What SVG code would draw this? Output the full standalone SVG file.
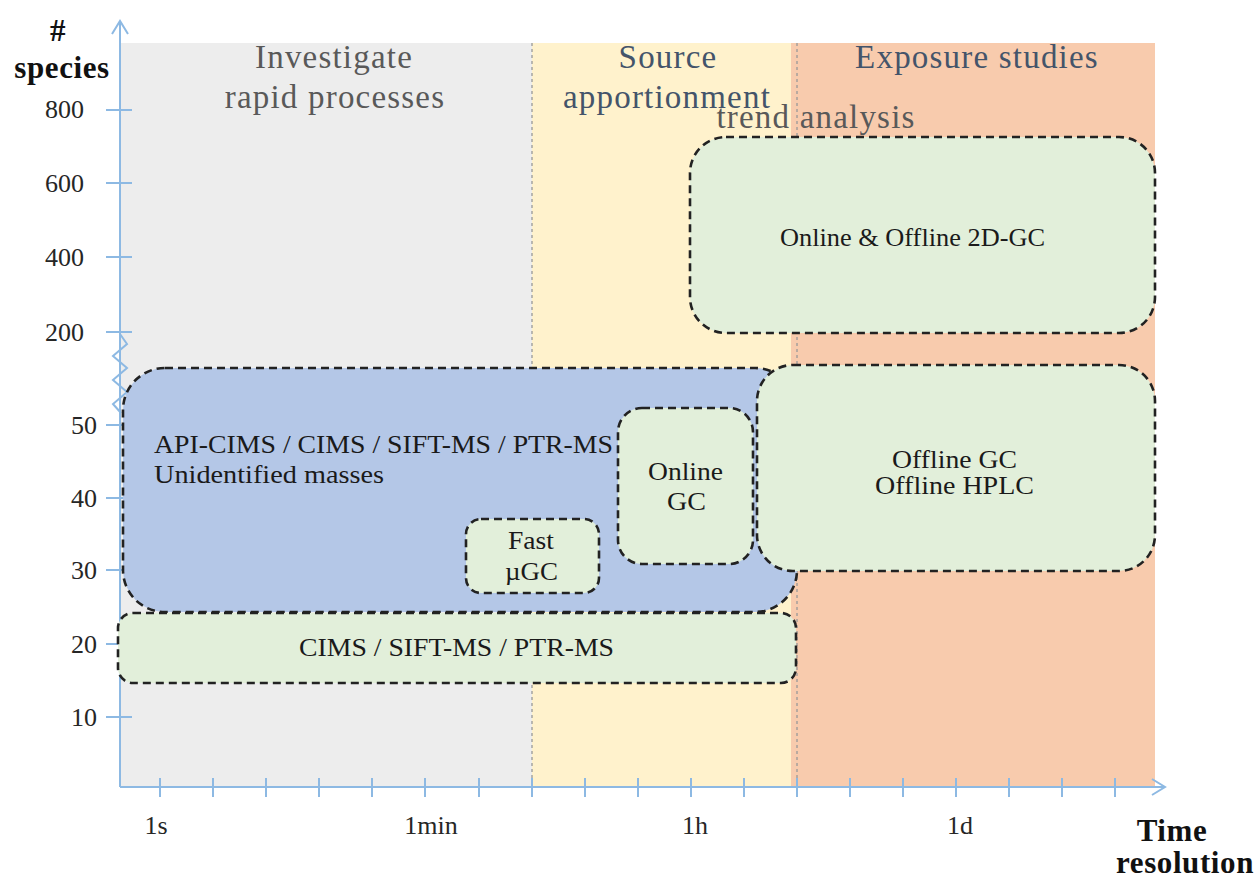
<svg xmlns="http://www.w3.org/2000/svg" width="1257" height="882" viewBox="0 0 1257 882">
<style>
text{font-family:"Liberation Serif","Times New Roman",serif;}
.zt{font-size:33px;letter-spacing:1.2px;text-anchor:middle;}
.gray{fill:#595959;}
.slate{fill:#44546A;}
.lbl{font-size:25px;fill:#1a1a1a;}
.mid{text-anchor:middle;}
.num{font-size:26px;fill:#262626;text-anchor:end;}
.xl{font-size:26px;fill:#262626;text-anchor:middle;}
.ax{font-size:31px;font-weight:bold;fill:#111;letter-spacing:0.6px;}
.box{stroke:#222;stroke-width:2.6;stroke-dasharray:8 5;}
.green{fill:#E2EFDA;}
.blue{fill:#B4C7E7;}
.axis{stroke:#8DB9E3;stroke-width:2;fill:none;}
.div{stroke:#999;stroke-width:1.3;stroke-dasharray:3 3;}
</style>
<rect width="1257" height="882" fill="#fff"/>
<g id="zones">
<rect x="120" y="43" width="412" height="744" fill="#EDEDED"/>
<rect x="532" y="43" width="259" height="744" fill="#FFF2CC"/>
<rect x="791" y="43" width="364" height="744" fill="#F8CBAD"/>
<line class="div" x1="532" y1="43" x2="532" y2="787"/>
<line class="div" x1="797" y1="43" x2="797" y2="787"/>
<text class="zt gray" x="334" y="68">Investigate</text>
<text class="zt gray" x="335" y="108">rapid processes</text>
<text class="zt slate" x="668" y="68">Source</text>
<text class="zt slate" x="667" y="108">apportionment</text>
<text class="zt gray" x="816" y="128">trend analysis</text>
<text class="zt slate" x="977" y="68">Exposure studies</text>
</g>
<g id="axes">
<line class="axis" x1="120" y1="21" x2="120" y2="787"/>
<polyline class="axis" points="112,34 120,21 128,34"/>
<line class="axis" x1="120" y1="787" x2="1164" y2="787"/>
<polyline class="axis" points="1152,779 1165,787 1152,795"/>
<path class="axis" d="M120,334 L127,344 L113,356 L127,368 L113,380 L127,392 L113,404 L121,413"/>
<g stroke="#8DB9E3" stroke-width="2">
<line x1="106" y1="110" x2="132" y2="110"/>
<line x1="106" y1="183" x2="132" y2="183"/>
<line x1="106" y1="257" x2="132" y2="257"/>
<line x1="106" y1="332" x2="132" y2="332"/>
<line x1="106" y1="425" x2="132" y2="425"/>
<line x1="106" y1="498" x2="132" y2="498"/>
<line x1="106" y1="570" x2="132" y2="570"/>
<line x1="106" y1="644" x2="132" y2="644"/>
<line x1="106" y1="717" x2="132" y2="717"/>
<line x1="160" y1="778" x2="160" y2="797"/>
<line x1="213" y1="778" x2="213" y2="797"/>
<line x1="266" y1="778" x2="266" y2="797"/>
<line x1="319" y1="778" x2="319" y2="797"/>
<line x1="372" y1="778" x2="372" y2="797"/>
<line x1="425" y1="778" x2="425" y2="797"/>
<line x1="479" y1="778" x2="479" y2="797"/>
<line x1="532" y1="778" x2="532" y2="797"/>
<line x1="585" y1="778" x2="585" y2="797"/>
<line x1="638" y1="778" x2="638" y2="797"/>
<line x1="691" y1="778" x2="691" y2="797"/>
<line x1="744" y1="778" x2="744" y2="797"/>
<line x1="797" y1="778" x2="797" y2="797"/>
<line x1="850" y1="778" x2="850" y2="797"/>
<line x1="903" y1="778" x2="903" y2="797"/>
<line x1="956" y1="778" x2="956" y2="797"/>
<line x1="1009" y1="778" x2="1009" y2="797"/>
<line x1="1062" y1="778" x2="1062" y2="797"/>
<line x1="1115" y1="778" x2="1115" y2="797"/>
</g>
<text class="num" x="84" y="118">800</text>
<text class="num" x="84" y="192">600</text>
<text class="num" x="84" y="266">400</text>
<text class="num" x="84" y="341">200</text>
<text class="num" x="97" y="434">50</text>
<text class="num" x="97" y="507">40</text>
<text class="num" x="97" y="579">30</text>
<text class="num" x="97" y="653">20</text>
<text class="num" x="97" y="726">10</text>
<text class="xl" x="156" y="834">1s</text>
<text class="xl" x="431" y="834">1min</text>
<text class="xl" x="695" y="834">1h</text>
<text class="xl" x="960" y="834">1d</text>
<text class="ax" x="58" y="41" text-anchor="middle">#</text>
<text class="ax" x="62" y="78" text-anchor="middle">species</text>
<text class="ax" x="1172" y="841" text-anchor="middle">Time</text>
<text class="ax" x="1185" y="873" text-anchor="middle">resolution</text>
</g>
<g id="node-2dgc">
<rect class="box green" x="690" y="137" width="465" height="196" rx="36"/>
<text class="lbl" x="780" y="246" textLength="265" lengthAdjust="spacingAndGlyphs">Online &amp; Offline 2D-GC</text>
</g>
<g id="node-apicims">
<rect class="box blue" x="123" y="368" width="674" height="244" rx="42"/>
<text class="lbl" x="154" y="453" textLength="459" lengthAdjust="spacingAndGlyphs">API-CIMS / CIMS / SIFT-MS / PTR-MS</text>
<text class="lbl" x="154" y="483" textLength="230" lengthAdjust="spacingAndGlyphs">Unidentified masses</text>
</g>
<g id="node-offlinegc">
<rect class="box green" x="757" y="365" width="398" height="206" rx="36"/>
<text class="lbl" x="892" y="468" textLength="125" lengthAdjust="spacingAndGlyphs">Offline GC</text>
<text class="lbl" x="875" y="494" textLength="159" lengthAdjust="spacingAndGlyphs">Offline HPLC</text>
</g>
<g id="node-onlinegc">
<rect class="box green" x="618" y="408" width="135" height="156" rx="24"/>
<text class="lbl" x="648" y="480" textLength="75" lengthAdjust="spacingAndGlyphs">Online</text>
<text class="lbl" x="667" y="510" textLength="39" lengthAdjust="spacingAndGlyphs">GC</text>
</g>
<g id="node-fastugc">
<rect class="box green" x="466" y="519" width="133" height="74" rx="15"/>
<text class="lbl" x="508" y="549" textLength="46" lengthAdjust="spacingAndGlyphs">Fast</text>
<text class="lbl" x="505" y="580" textLength="53" lengthAdjust="spacingAndGlyphs">µGC</text>
</g>
<g id="node-cims">
<rect class="box green" x="118" y="613" width="678" height="70" rx="15"/>
<text class="lbl" x="299" y="656" textLength="315" lengthAdjust="spacingAndGlyphs">CIMS / SIFT-MS / PTR-MS</text>
</g>
</svg>
